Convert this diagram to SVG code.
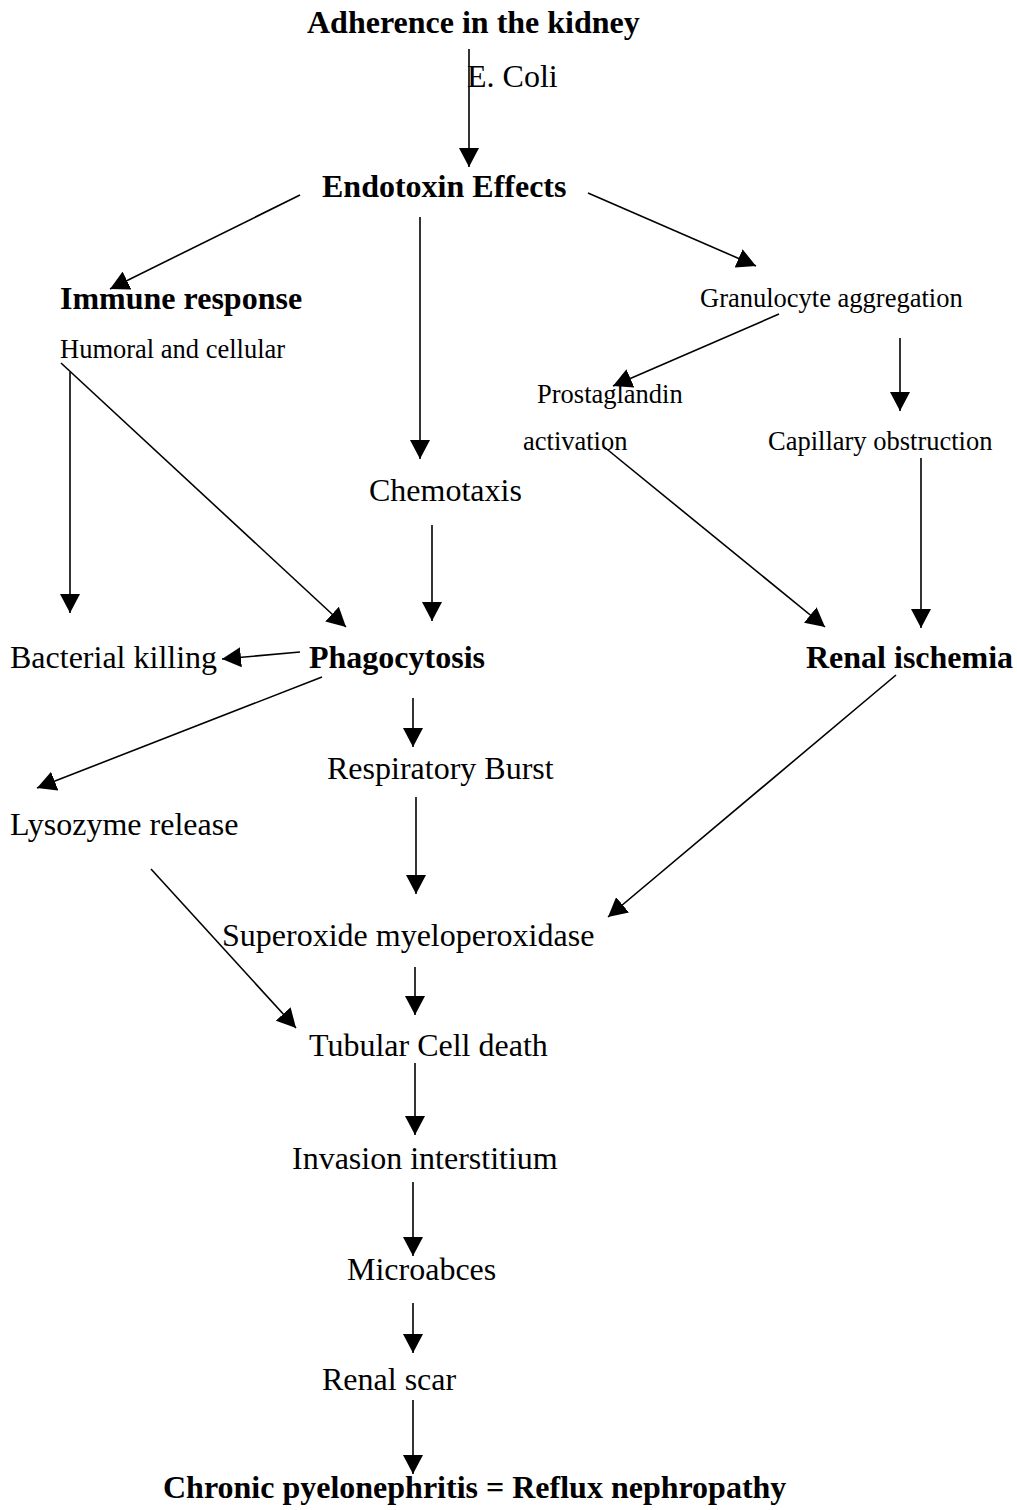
<svg xmlns="http://www.w3.org/2000/svg" width="1017" height="1510" viewBox="0 0 1017 1510">
<style>
text{font-family:"Liberation Serif","Times New Roman",serif;fill:#000;}
.b{font-size:32px;font-weight:bold;}
.r{font-size:32px;}
.s{font-size:26.5px;}
.c line{stroke:#000;stroke-width:1.6;marker-end:url(#ah);}
</style>
<defs>
<marker id="ah" markerUnits="userSpaceOnUse" markerWidth="19" markerHeight="20" refX="19" refY="10" orient="auto" viewBox="0 0 19 20">
<path d="M0,0 L19,10 L0,20 Z" fill="#000"/>
</marker>
</defs>
<rect width="1017" height="1510" fill="#fff"/>
<g id="n-adherence"><text class="b" x="307" y="33">Adherence in the kidney</text></g>
<g id="n-ecoli"><text class="r" x="467" y="87">E. Coli</text></g>
<g id="n-endotoxin"><text class="b" x="322" y="197">Endotoxin Effects</text></g>
<g id="n-immune"><text class="b" x="60" y="309">Immune response</text></g>
<g id="n-humoral"><text class="s" x="60" y="358">Humoral and cellular</text></g>
<g id="n-granulocyte"><text class="s" x="700" y="307">Granulocyte aggregation</text></g>
<g id="n-prostaglandin"><text class="s" x="537" y="403">Prostaglandin</text><text class="s" x="523" y="450">activation</text></g>
<g id="n-capillary"><text class="s" x="768" y="450">Capillary obstruction</text></g>
<g id="n-chemotaxis"><text class="r" x="369" y="501">Chemotaxis</text></g>
<g id="n-bacterial"><text class="r" x="10" y="668">Bacterial killing</text></g>
<g id="n-phagocytosis"><text class="b" x="309" y="668">Phagocytosis</text></g>
<g id="n-ischemia"><text class="b" x="806" y="668">Renal ischemia</text></g>
<g id="n-respiratory"><text class="r" x="327" y="779">Respiratory Burst</text></g>
<g id="n-lysozyme"><text class="r" x="10" y="835">Lysozyme release</text></g>
<g id="n-superoxide"><text class="r" x="222" y="946">Superoxide myeloperoxidase</text></g>
<g id="n-tubular"><text class="r" x="309" y="1056">Tubular Cell death</text></g>
<g id="n-invasion"><text class="r" x="292" y="1169">Invasion interstitium</text></g>
<g id="n-microabces"><text class="r" x="347" y="1280">Microabces</text></g>
<g id="n-scar"><text class="r" x="322" y="1390">Renal scar</text></g>
<g id="n-chronic"><text class="b" x="163" y="1498">Chronic pyelonephritis = Reflux nephropathy</text></g>
<g id="connectors" class="c">
<line x1="469" y1="49" x2="469" y2="167"/>
<line x1="300" y1="195" x2="110" y2="289"/>
<line x1="420" y1="217" x2="420" y2="459"/>
<line x1="588" y1="193" x2="756" y2="266"/>
<line x1="779" y1="314" x2="613" y2="386"/>
<line x1="900" y1="338" x2="900" y2="411"/>
<line x1="70" y1="372" x2="70" y2="613"/>
<line x1="61" y1="363" x2="346" y2="627"/>
<line x1="603" y1="446" x2="825" y2="627"/>
<line x1="921" y1="458" x2="921" y2="628"/>
<line x1="432" y1="525" x2="432" y2="621"/>
<line x1="300" y1="652" x2="222" y2="659"/>
<line x1="322" y1="677" x2="37" y2="788"/>
<line x1="413" y1="698" x2="413" y2="747"/>
<line x1="896" y1="675" x2="608" y2="917"/>
<line x1="416" y1="797" x2="416" y2="894"/>
<line x1="151" y1="869" x2="296" y2="1028"/>
<line x1="415" y1="967" x2="415" y2="1015"/>
<line x1="415" y1="1063" x2="415" y2="1135"/>
<line x1="413" y1="1182" x2="413" y2="1256"/>
<line x1="413" y1="1303" x2="413" y2="1353"/>
<line x1="413" y1="1400" x2="413" y2="1474"/>
</g>
</svg>
